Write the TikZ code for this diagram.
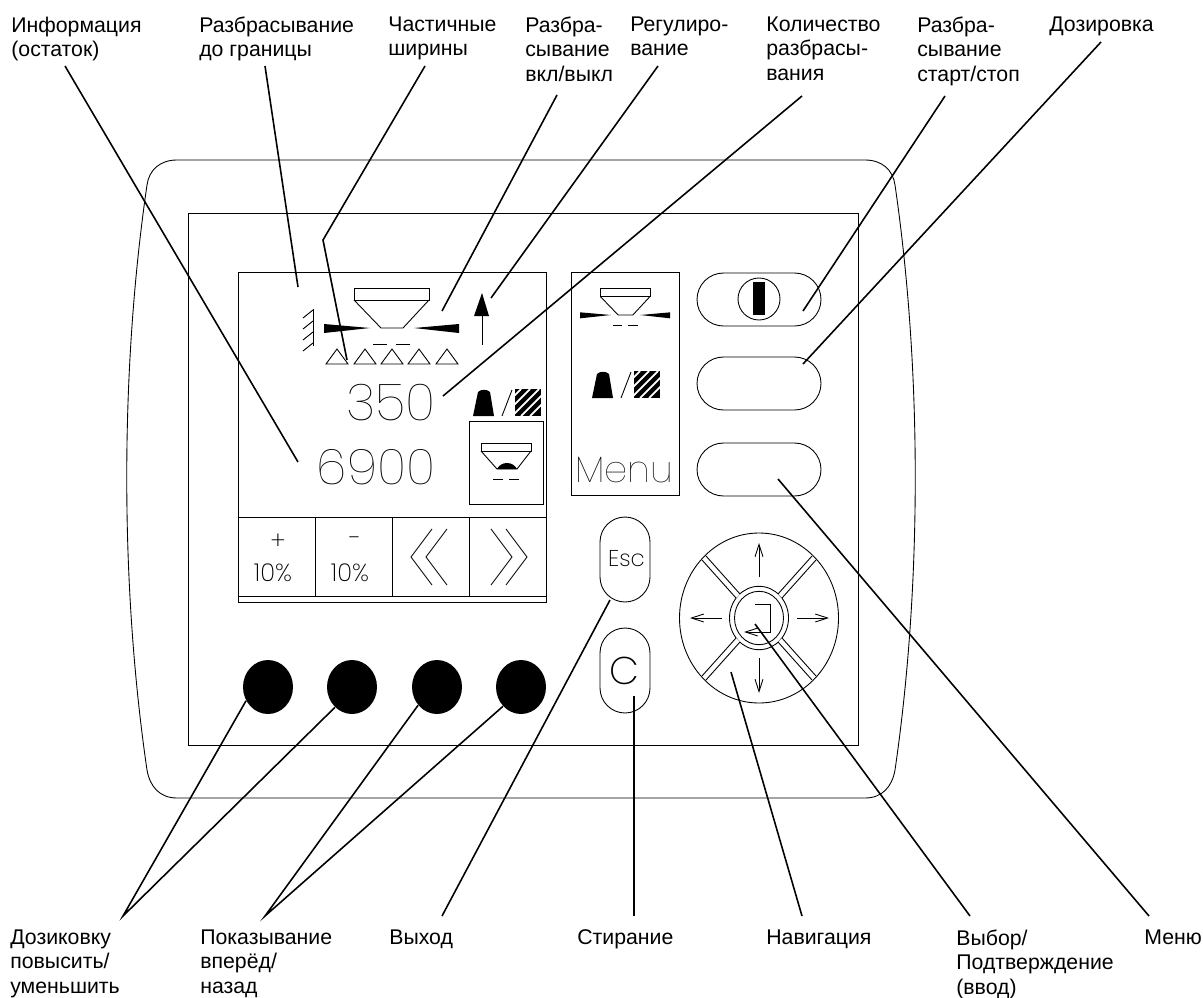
\documentclass[tikz,border=0pt]{standalone}
\usepackage{fontspec}
\setmainfont{Liberation Sans}
\newfontfamily\lcdfont[UprightFont=* Thin]{Poppins}
\newfontfamily\lcdsmallfont[UprightFont=* ExtraLight]{Poppins}
\usetikzlibrary{calc, shapes.geometric, shapes.misc, arrows.meta}

\tikzset{
    lbl/.style={anchor=north west, inner sep=0pt, align=left, font=\fontsize{12.1}{13.9}\selectfont},
    leader/.style={line width=0.9pt},
    thinline/.style={line width=0.5pt},
    lcd/.style={inner sep=0pt, font=\lcdfont\fontsize{#1}{#1}\selectfont},
    lcdsmall/.style={inner sep=0pt, font=\lcdsmallfont\fontsize{#1}{#1}\selectfont},
    pill/.style={draw, thinline, rounded rectangle, minimum width=2.48cm, minimum height=1.06cm, inner sep=0pt},
    keycap/.style={draw, thinline, rectangle, rounded corners=0.5cm, minimum width=1cm, minimum height=1.7cm, inner sep=0pt},
    knob/.style={ellipse, fill=black, minimum width=1cm, minimum height=1.08cm, inner sep=0pt},
    spreader/.pic={
        \draw[thinline] (-38,-40) rectangle (37,-28);
        \draw[thinline] (-38,-28) -- (-11,0) -- (11,0) -- (37,-28);
        \fill (-22,0) -- (-68,-4) -- (-68,5) -- cycle;
        \fill (22,0) -- (67,-4) -- (67,5) -- cycle;
        \draw[thinline] (-19,16) -- (-5,16);
        \draw[thinline] (4,16) -- (18,16);
    },
    dosage/.pic={
        \fill (0,0) -- (5,-24) .. controls (8,-27) and (14,-27) .. (17,-24) -- (21,0) -- cycle;
        \draw[thinline] (29,0) -- (39,-26);
        \fill (42,-27) rectangle (68,0);
        \begin{scope}
            \clip (42,-27) rectangle (68,0);
            \foreach \s in {-21,-12,-3,6,15}
                \draw[white, line width=1pt] (42+\s,0) -- (69+\s,-27);
        \end{scope}
    }
}

\begin{document}
\begin{tikzpicture}[x=0.02cm, y=-0.02cm, >={Straight Barb[length=7pt, width=4.5pt]}]

    \useasboundingbox (0,0) rectangle (1203,997);

    % =================================================================
    % 1. MAIN POINTS
    % =================================================================
    \coordinate (infotip) at (298,462);
    \coordinate (bordertip) at (298,287);
    \coordinate (partialbend) at (323,240);
    \coordinate (partialtip) at (347,360);
    \coordinate (onofftip) at (442,311);
    \coordinate (regultip) at (491,298);
    \coordinate (quanttip) at (443,396);
    \coordinate (startstoptip) at (803,311);
    \coordinate (dosetip) at (803,364);
    \coordinate (menutip) at (778,479);
    \coordinate (selecttip) at (755,624);
    \coordinate (navtip) at (731,672);
    \coordinate (erasetip) at (634,696);
    \coordinate (exittip) at (610,600);
    \coordinate (wheel) at (759,618);

    % =================================================================
    % 2. HOUSING AND FRONT PLATE
    % =================================================================
    \draw[thinline] (177,160) -- (865,160)
        .. controls (882,160) and (893,170) .. (895,185)
        .. controls (922,370) and (922,585) .. (895,770)
        .. controls (892,787) and (882,798) .. (865,798)
        -- (177,798)
        .. controls (160,798) and (150,787) .. (147,770)
        .. controls (120,585) and (120,370) .. (147,185)
        .. controls (149,170) and (160,160) .. (177,160) -- cycle;
    \draw[thinline] (188,213) rectangle (858,745);

    % =================================================================
    % 3. DISPLAY
    % =================================================================
    \draw[thinline] (238,272) rectangle (546,602);
    \draw[thinline] (238,517) -- (546,517);
    \draw[thinline] (238,596) -- (546,596);
    \foreach \x in {315,392,469}
        \draw[thinline] (\x,517) -- (\x,596);

    \pic at (392,328) {spreader};

    % wall hatching
    \draw[thinline] (313,309) -- (313,346);
    \foreach \y in {310,321,332,343}
        \draw[thinline] (313,\y) -- (303,\y+8);

    % regulation arrow
    \fill (482,293) -- (474,316) -- (489,316) -- cycle;
    \draw[thinline] (482,316) -- (482,345);

    % part width triangles
    \foreach \x in {337,365,392,419,447}
        \draw[thinline] (\x-11,364) -- (\x,349) -- (\x+11,364) -- cycle;

    \node[lcd=29] (rate) at (391,403) {350};
    \node[lcd=28] (rest) at (376,467) {6900};
    \pic at (473,416) {dosage};

    % small spreader box
    \draw[thinline] (469,421) rectangle (543,504);
    \draw[thinline] (481,443) rectangle (531,451);
    \draw[thinline] (481,451) -- (497,469) -- (517,469) -- (531,451);
    \fill (497,469) .. controls (501,461) and (513,461) .. (517,469) -- cycle;
    \draw[thinline] (493,479) -- (503,479);
    \draw[thinline] (509,479) -- (519,479);

    % soft keys
    \node[lcdsmall=14] (plusmark) at (278,542) {+};
    \node[lcdsmall=14] (plusten) at (273,573) {10\%};
    \node[lcdsmall=14] (minusmark) at (354,542) {−};
    \node[lcdsmall=14] (minusten) at (350,573) {10\%};
    \draw[thinline] (432,529) -- (411,557) -- (432,585);
    \draw[thinline] (447,529) -- (426,557) -- (447,585);
    \draw[thinline] (491,529) -- (512,557) -- (491,585);
    \draw[thinline] (506,529) -- (527,557) -- (506,585);

    % =================================================================
    % 4. MENU PANEL
    % =================================================================
    \draw[thinline] (571,272) rectangle (679,495);
    \pic[scale=2/3] at (625.5,315) {spreader};
    \pic at (592,398) {dosage};
    \node[lcd=21] (menuword) at (624,470) {Menu};

    % =================================================================
    % 5. KEYS, WHEEL AND KNOBS
    % =================================================================
    \node[pill] (startkey) at (759,299.5) {};
    \node[pill] (dosekey) at (759,383.5) {};
    \node[pill] (menukey) at (759,469.5) {};
    \draw[thinline] (759,299) circle (21);
    \fill (753,282) rectangle (765,315);

    \node[keycap] (esckey) at (625,559.5) {};
    \node[lcdsmall=13] (escword) at (626.5,559) {Esc};
    \node[keycap] (clearkey) at (625,670.5) {};
    \node[lcdsmall=22] (clearword) at (624.5,671) {C};

    \draw[thinline] (wheel) ellipse (29.5 and 31.7);
    \foreach \sx/\sy in {1/1,-1/1,1/-1,-1/-1} {
        \fill[white] ($(wheel)+(\sx*57,\sy*58)$) -- ($(wheel)+(\sx*23,\sy*20)$) -- ($(wheel)+(\sx*19,\sy*24)$) -- ($(wheel)+(\sx*53,\sy*62)$) -- cycle;
        \draw[thinline] ($(wheel)+(\sx*57,\sy*58)$) -- ($(wheel)+(\sx*23,\sy*20)$);
        \draw[thinline] ($(wheel)+(\sx*53,\sy*62)$) -- ($(wheel)+(\sx*19,\sy*24)$);
    }
    \draw[thinline] (wheel) ellipse (79.5 and 85);
    \draw[thinline] (wheel) ellipse (24.5 and 26.7);
    \draw[thinline, ->] ($(wheel)+(0,-41)$) -- ($(wheel)+(0,-75)$);
    \draw[thinline, ->] ($(wheel)+(0,40)$) -- ($(wheel)+(0,75)$);
    \draw[thinline, ->] ($(wheel)+(-37,0)$) -- ($(wheel)+(-69,0)$);
    \draw[thinline, ->] ($(wheel)+(38,0)$) -- ($(wheel)+(70,0)$);
    \draw[thinline, ->] (755,604) -- (770,604) -- (770,632) -- (744,632);

    \node[knob] (knobA) at (268,687) {};
    \node[knob] (knobB) at (352,687) {};
    \node[knob] (knobC) at (437,687) {};
    \node[knob] (knobD) at (521,687) {};

    % =================================================================
    % 6. LABELS
    % =================================================================
    \node[lbl] (info) at (11,16.5) {Информация\\(остаток)};
    \node[lbl] (border) at (199,16.5) {Разбрасывание\\до границы};
    \node[lbl] (partial) at (388,16.5) {Частичные\\ширины};
    \node[lbl] (onoff) at (525,16.5) {Разбра-\\сывание\\вкл/выкл};
    \node[lbl] (regul) at (630,16.5) {Регулиро-\\вание};
    \node[lbl] (quant) at (766,16.5) {Количество\\разбрасы-\\вания};
    \node[lbl] (startstop) at (917,16.5) {Разбра-\\сывание\\старт/стоп};
    \node[lbl] (dose) at (1049,16.5) {Дозировка};
    \node[lbl] (adjust) at (10,929.5) {Дозиковку\\повысить/\\уменьшить};
    \node[lbl] (show) at (200,929.5) {Показывание\\вперёд/\\назад};
    \node[lbl] (exit) at (389,929.5) {Выход};
    \node[lbl] (erase) at (577,929.5) {Стирание};
    \node[lbl] (nav) at (766,929.5) {Навигация};
    \node[lbl] (select) at (956,929.5) {Выбор/\\Подтверждение\\(ввод)};
    \node[lbl] (menu) at (1144,929.5) {Меню};

    % =================================================================
    % 7. LEADER LINES
    % =================================================================
    \draw[leader] ([shift={(54,49.5)}]info.north west) -- (infotip);
    \draw[leader] ([shift={(66,49.5)}]border.north west) -- (bordertip);
    \draw[leader] ([shift={(37,49.5)}]partial.north west) -- (partialbend) -- (partialtip);
    \draw[leader] ([shift={(32,78.5)}]onoff.north west) -- (onofftip);
    \draw[leader] ([shift={(28,49.5)}]regul.north west) -- (regultip);
    \draw[leader] ([shift={(36,79.5)}]quant.north west) -- (quanttip);
    \draw[leader] ([shift={(28,79.5)}]startstop.north west) -- (startstoptip);
    \draw[leader] ([shift={(52,25.5)}]dose.north west) -- (dosetip);
    \draw[leader] (knobA.212) -- ([shift={(113,-13.5)}]adjust.north west) -- (knobB.230);
    \draw[leader] (knobC.224) -- ([shift={(65,-13.5)}]show.north west) -- (knobD.227);
    \draw[leader] ([shift={(53,-13.5)}]exit.north west) -- (exittip);
    \draw[leader] ([shift={(57,-13.5)}]erase.north west) -- (erasetip);
    \draw[leader] ([shift={(36,-13.5)}]nav.north west) -- (navtip);
    \draw[leader] ([shift={(14,-13.5)}]select.north west) -- (selecttip);
    \draw[leader] ([shift={(5,-13.5)}]menu.north west) -- (menutip);

\end{tikzpicture}
\end{document}
